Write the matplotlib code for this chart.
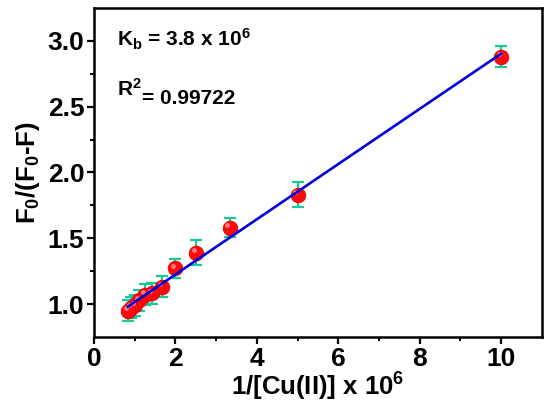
import matplotlib
matplotlib.use("Agg")
import matplotlib.pyplot as plt
import matplotlib.transforms as mtransforms
import numpy as np

# 1/[Cu(II)] x 10^6 and F0/(F0-F)
inv_cu = [10.0, 5.0, 3.33, 2.5, 2.0, 1.67, 1.43, 1.25, 1.11, 1.0, 0.91, 0.83]
f_ratio = [2.88, 1.83, 1.58, 1.39, 1.27, 1.13, 1.08, 1.07, 1.03, 0.99, 0.97, 0.95]
f_err = [0.08, 0.095, 0.072, 0.095, 0.075, 0.08, 0.08, 0.08, 0.08, 0.08, 0.08, 0.08]
xticks = [0, 2, 4, 6, 8, 10]
yticks = [1.0, 1.5, 2.0, 2.5, 3.0]

plt.rcParams['font.family'] = ['Liberation Sans', 'DejaVu Sans']
plt.rcParams['font.weight'] = 'bold'
plt.rcParams['mathtext.fontset'] = 'custom'
plt.rcParams['mathtext.rm'] = 'Liberation Sans:bold'
plt.rcParams['mathtext.it'] = 'Liberation Sans:bold'
plt.rcParams['mathtext.bf'] = 'Liberation Sans:bold'
plt.rcParams['mathtext.default'] = 'rm'

fig = plt.figure(figsize=(5.5, 4.18), dpi=100)
ax = fig.add_axes([0.171, 0.194, 0.814, 0.787])

x = np.array(inv_cu)
y = np.array(f_ratio)
slope, icpt = np.polyfit(x, y, 1)
xf = np.array([x.min(), x.max()])

ax.errorbar(x, y, yerr=f_err, fmt='none', ecolor='#1cc79c', elinewidth=1.6,
            capsize=4, capthick=1.6, zorder=2)
ax.plot(x, y, 'o', ms=10.5, mfc='#ff0a0a', mec='#e00000', mew=0.6, zorder=3)
# small highlight to give the spheres a shine
hl = mtransforms.offset_copy(ax.transData, fig=fig, x=-1.5, y=1.8, units='points')
ax.plot(x, y, 'o', ms=3.5, mfc='#ff9a9a', mec='none', alpha=0.8,
        transform=hl, zorder=4)
ax.plot(xf, slope * xf + icpt, color='#0000dd', lw=1.9, zorder=5)

ax.set_xlim(0, 11)
ax.set_ylim(0.75, 3.25)
ax.set_xticks(xticks)
ax.set_yticks(yticks)
ax.set_xticks(np.arange(1, 11, 2), minor=True)
ax.set_yticks(np.arange(1.25, 3.25, 0.5), minor=True)
ax.set_xticklabels([str(t) for t in xticks])
ax.set_yticklabels(['%.1f' % t for t in yticks])
ax.tick_params(which='major', direction='out', length=5, width=1.6,
               labelsize=19, pad=2)
ax.tick_params(which='minor', direction='out', length=3, width=1.4)
for sp in ax.spines.values():
    sp.set_linewidth(1.8)

ax.set_xlabel('1/[Cu(II)] x 10$^6$', fontsize=18.5, fontweight='bold', labelpad=0)
ax.set_ylabel('F$_0$/(F$_0$-F)', fontsize=18.5, fontweight='bold', labelpad=4)

ax.text(0.052, 0.905, 'K$_b$ = 3.8 x 10$^6$', transform=ax.transAxes,
        fontsize=15, fontweight='bold', va='center')
ax.text(0.052, 0.755, 'R$^2$', transform=ax.transAxes,
        fontsize=15, fontweight='bold', va='center')
ax.text(0.108, 0.725, '= 0.99722', transform=ax.transAxes,
        fontsize=15, fontweight='bold', va='center')

fig.savefig('out.png', dpi=100)
